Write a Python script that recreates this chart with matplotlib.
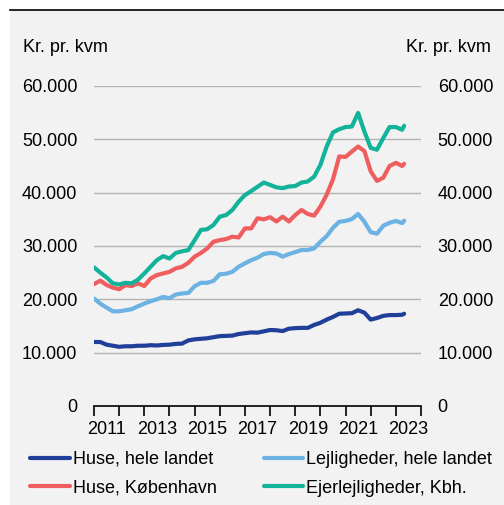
import matplotlib
matplotlib.use("Agg")
import matplotlib.pyplot as plt
from matplotlib.patches import Rectangle
from matplotlib.lines import Line2D
from matplotlib.ticker import FuncFormatter

plt.rcParams["font.family"] = ["Liberation Sans", "DejaVu Sans"]

# quarterly observations (decimal year), last point ~ april 2023
dates = [2011 + q / 4 for q in range(50)] + [2023.33]

huse_land = [
    12000, 12000, 11500, 11300,
    11100, 11200, 11200, 11300,
    11300, 11400, 11350, 11450,
    11500, 11650, 11700, 12300,
    12500, 12600, 12700, 12900,
    13100, 13150, 13200, 13500,
    13650, 13800, 13750, 14000,
    14250, 14200, 14050, 14500,
    14600, 14650, 14650, 15200,
    15600, 16200, 16700, 17300,
    17350, 17400, 17950, 17500,
    16200, 16500, 16900, 17050,
    17050, 17100, 17300,
]
lejl_land = [
    20150, 19200, 18450, 17750,
    17750, 17950, 18150, 18700,
    19200, 19650, 20000, 20450,
    20200, 20900, 21100, 21200,
    22450, 23100, 23100, 23450,
    24700, 24800, 25150, 26100,
    26750, 27350, 27800, 28500,
    28700, 28600, 28000, 28500,
    28850, 29250, 29250, 29550,
    30800, 31850, 33400, 34550,
    34700, 35050, 36000, 34550,
    32600, 32300, 33800, 34350,
    34700, 34300, 34750,
]
huse_kbh = [
    22850, 23500, 22700, 22200,
    21900, 22650, 22500, 23000,
    22500, 23900, 24550, 24850,
    25150, 25800, 26100, 26850,
    28000, 28700, 29550, 30800,
    31100, 31300, 31750, 31600,
    33300, 33300, 35200, 35000,
    35400, 34600, 35500, 34600,
    35800, 36750, 36000, 35700,
    37400, 39600, 42500, 46800,
    46700, 47700, 48650, 47800,
    44000, 42200, 42800, 45000,
    45600, 45000, 45400,
]
ejer_kbh = [
    26000, 25000, 24100, 23000,
    22800, 23100, 23000, 23700,
    24850, 26100, 27350, 28100,
    27650, 28700, 29000, 29250,
    31100, 33000, 33150, 33950,
    35500, 35800, 36750, 38300,
    39550, 40300, 41100, 41900,
    41450, 41000, 40850, 41150,
    41250, 41900, 42100, 43000,
    45200, 48650, 51300, 51900,
    52300, 52400, 54950, 51450,
    48400, 48050, 50250, 52300,
    52300, 51800, 52550,
]

series = [
    ("Huse, hele landet", huse_land, "#1f3f98"),
    ("Lejligheder, hele landet", lejl_land, "#6cb2e3"),
    ("Huse, København", huse_kbh, "#ef5d5f"),
    ("Ejerlejligheder, Kbh.", ejer_kbh, "#13b29a"),
]
year_labels = [2011, 2013, 2015, 2017, 2019, 2021, 2023]
FS = 13

W, H = 504, 505
fig = plt.figure(figsize=(W / 100, H / 100), dpi=100)
fig.patches.append(Rectangle((10 / W, 0), 1 - 10 / W, 1 - 10 / H, transform=fig.transFigure,
                             facecolor="#f2f2f2", edgecolor="none", zorder=-10))
fig.lines.append(Line2D([10 / W, 1], [1 - 9.5 / H, 1 - 9.5 / H], transform=fig.transFigure,
                        color="black", lw=1.2))

ax = fig.add_axes([94 / W, (H - 406) / H, (421 - 94) / W, (406 - 86) / H])
ax.set_facecolor("none")

lines = {}
for label, vals, col in series:
    lines[label], = ax.plot(dates, vals, color=col, lw=3, label=label,
                            solid_capstyle="round", zorder=3)

ax.set_xlim(2011, 2024)
ax.set_ylim(0, 60000)
ax.set_yticks(range(0, 60001, 10000))
fmt = FuncFormatter(lambda v, p: f"{int(v):,}".replace(",", "."))
ax.yaxis.set_major_formatter(fmt)
ax.tick_params(axis="y", length=0, labelsize=FS, labelright=True, right=False, pad=12)
ax.grid(axis="y", color="#b4b4b4", lw=1)
ax.set_axisbelow(True)

ax.set_xticks(range(2011, 2025))
ax.set_xticks([y + 0.5 for y in year_labels], minor=True)
ax.set_xticklabels([])
ax.set_xticklabels([str(y) for y in year_labels], minor=True)
ax.tick_params(axis="x", which="major", direction="out", length=7, width=1.2, color="black")
ax.tick_params(axis="x", which="minor", length=0, labelsize=FS, pad=11)

for s in ["top", "left", "right"]:
    ax.spines[s].set_visible(False)
ax.spines["bottom"].set_linewidth(1.2)

fig.text(23 / W, 1 - 47 / H, "Kr. pr. kvm", fontsize=FS, va="center", ha="left")
fig.text(491 / W, 1 - 47 / H, "Kr. pr. kvm", fontsize=FS, va="center", ha="right")

# legend filled column-wise: keep reference row order
order = ["Huse, hele landet", "Huse, København",
         "Lejligheder, hele landet", "Ejerlejligheder, Kbh."]
fig.legend([lines[k] for k in order], order, loc="upper left",
           bbox_to_anchor=(30 / W, 1 - 451 / H), ncol=2, frameon=False,
           fontsize=FS, handlelength=2.2, handletextpad=0.17, columnspacing=2.6,
           labelspacing=0.65, borderpad=0, borderaxespad=0)

fig.savefig("out.png", dpi=100)
